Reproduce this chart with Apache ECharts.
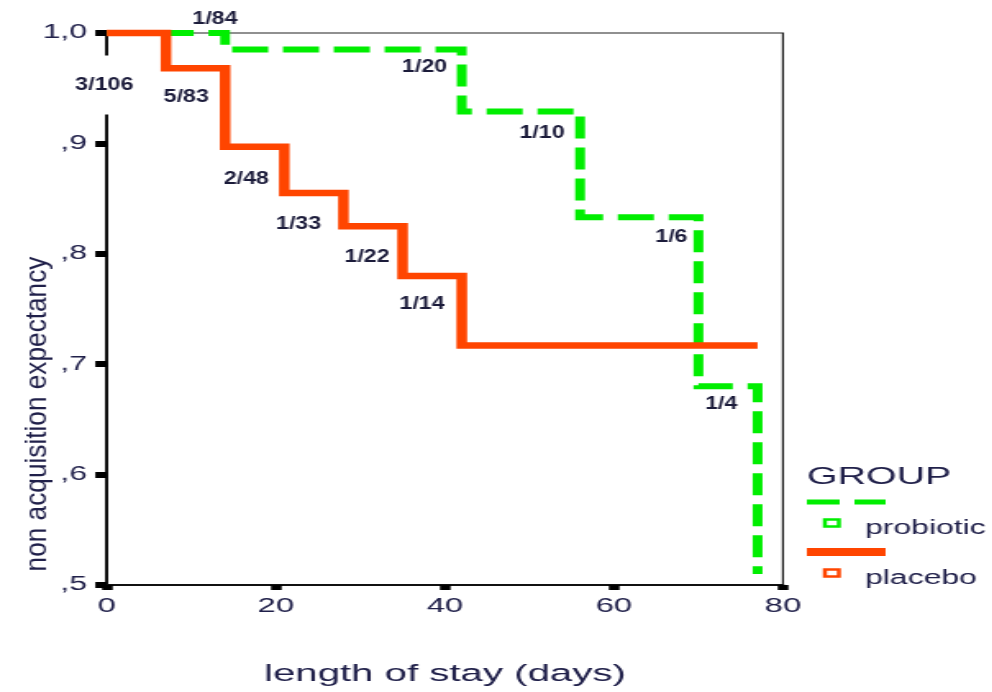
<!DOCTYPE html>
<html>
<head>
<meta charset="utf-8">
<script src="https://cdn.jsdelivr.net/npm/echarts@6/dist/echarts.min.js"></script>
<style>
  html, body { margin: 0; padding: 0; background: #fff; overflow: hidden; }
  #wrap { width: 992px; height: 692px; overflow: hidden; }
  /* the chart is laid out narrow and widened horizontally, SPSS-export style */
  #chart { width: 605px; height: 692px; transform: scaleX(1.64); transform-origin: 0 0; }
</style>
</head>
<body>
<div id="wrap"><div id="chart"></div></div>
<script>
// Step curves: day of each step and the non-acquisition estimate after it
const probioticDays   = [0, 14, 42, 56, 70, 77];
const probioticValues = [1.0, 0.985, 0.929, 0.833, 0.680, 0.51];
const placeboDays     = [0, 7, 14, 21, 28, 35, 42, 77];
const placeboValues   = [1.0, 0.968, 0.897, 0.855, 0.825, 0.780, 0.717, 0.717];

// events / patients at risk, anchored at (day, estimate)
const eventLabels = ['1/84', '3/106', '5/83', '1/20', '2/48', '1/10', '1/6', '1/33', '1/22', '1/14', '1/4'];
const eventDays   = [12.8, -0.3, 9.4, 37.6, 16.5, 51.5, 66.8, 22.7, 30.8, 37.3, 72.7];
const eventValues = [1.0126, 0.953, 0.942, 0.969, 0.868, 0.910, 0.815, 0.827, 0.797, 0.755, 0.664];

// axis tick labels (decimal comma)
const yTickLabels = [',5', ',6', ',7', ',8', ',9', '1,0'];
const xTickLabels = ['0', '20', '40', '60', '80'];

const groups = ['probiotic', 'placebo'];

const GREEN = '#00ee00';
const ORANGE = '#ff4500';
const INK = '#20204a';
const FONT = '"Liberation Sans", Arial, sans-serif';

const chart = echarts.init(document.getElementById('chart'), null, { renderer: 'canvas' });

const option = {
  animation: false,
  backgroundColor: '#fff',
  grid: {
    left: 65.1, top: 33, width: 412.3, height: 554,
    show: true, borderColor: '#222', borderWidth: 1.2, backgroundColor: 'transparent'
  },
  xAxis: {
    type: 'value', min: 0, max: 80, interval: 20,
    axisLine: { show: true, onZero: false, lineStyle: { color: '#111', width: 2 } },
    axisTick: { show: true, length: 5, lineStyle: { color: '#000', width: 6.5 } },
    axisLabel: {
      margin: 11, fontSize: 20, color: INK, fontFamily: FONT,
      formatter: v => xTickLabels[Math.round(v / 20)]
    },
    splitLine: { show: false },
    name: 'length of stay (days)', nameLocation: 'middle', nameGap: 77,
    nameTextStyle: { fontSize: 24.5, color: INK, fontFamily: FONT }
  },
  yAxis: {
    type: 'value', min: 0.5, max: 1.0, interval: 0.1,
    axisLine: { show: true, onZero: false, lineStyle: { color: '#111', width: 2 } },
    axisTick: { show: true, length: 7, lineStyle: { color: '#000', width: 6 } },
    axisLabel: {
      margin: 12, fontSize: 19.5, color: INK, fontFamily: FONT,
      formatter: v => yTickLabels[Math.round((v - 0.5) * 10)]
    },
    splitLine: { show: false }
  },
  series: [
    {
      name: groups[0], type: 'line', step: 'end', clip: true, z: 3,
      symbol: 'none', silent: true,
      data: probioticDays.map((d, i) => [d, probioticValues[i]]),
      lineStyle: { color: GREEN, width: 6, type: [22, 9], cap: 'butt', join: 'miter' }
    },
    {
      name: groups[1], type: 'line', step: 'end', clip: false, z: 4,
      symbol: 'none', silent: true,
      data: placeboDays.map((d, i) => [d, placeboValues[i]]),
      lineStyle: { color: ORANGE, width: 6.5, cap: 'butt', join: 'miter' }
    },
    {
      // event annotations, drawn narrower than the widened page text
      type: 'custom', clip: false, z: 10, silent: true,
      data: eventDays.map((d, i) => [d, eventValues[i]]),
      renderItem(params, api) {
        const day = api.value(0);
        const p = api.coord([day, api.value(1)]);
        const onAxis = day <= 0;
        return {
          type: 'text', x: p[0], y: p[1], scaleX: 0.744,
          style: {
            text: eventLabels[params.dataIndex],
            fill: '#1b1b3a',
            font: 'bold 19px ' + FONT,
            align: 'center', verticalAlign: 'middle',
            backgroundColor: onAxis ? '#fff' : null,
            padding: onAxis ? [14, 6, 26, 6] : 0
          }
        };
      }
    }
  ],
  graphic: [
    {
      type: 'text', x: 23.2, y: 414, rotation: Math.PI / 2, scaleX: 1.38, silent: true,
      style: { text: 'non acquisition expectancy', font: '19px ' + FONT, fill: INK, align: 'center', verticalAlign: 'middle' }
    },
    // legend block
    { type: 'text', x: 492, y: 477, silent: true,
      style: { text: 'GROUP', font: '24px ' + FONT, fill: INK, align: 'left', verticalAlign: 'middle' } },
    { type: 'line', silent: true, shape: { x1: 492, y1: 502, x2: 540, y2: 502 },
      style: { stroke: GREEN, lineWidth: 5, lineDash: [20, 9] } },
    { type: 'rect', silent: true, shape: { x: 503, y: 519.5, width: 8.5, height: 7 },
      style: { fill: '#fff', stroke: GREEN, lineWidth: 2.5 } },
    { type: 'text', x: 527.4, y: 529, silent: true,
      style: { text: groups[0], font: '19.5px ' + FONT, fill: INK, align: 'left', verticalAlign: 'middle' } },
    { type: 'line', silent: true, shape: { x1: 492, y1: 552, x2: 540, y2: 552 },
      style: { stroke: ORANGE, lineWidth: 8 } },
    { type: 'rect', silent: true, shape: { x: 503, y: 569.5, width: 8.5, height: 7 },
      style: { fill: '#fff', stroke: ORANGE, lineWidth: 2.5 } },
    { type: 'text', x: 527.4, y: 579, silent: true,
      style: { text: groups[1], font: '19.5px ' + FONT, fill: INK, align: 'left', verticalAlign: 'middle' } }
  ]
};

chart.setOption(option);
</script>
</body>
</html>
